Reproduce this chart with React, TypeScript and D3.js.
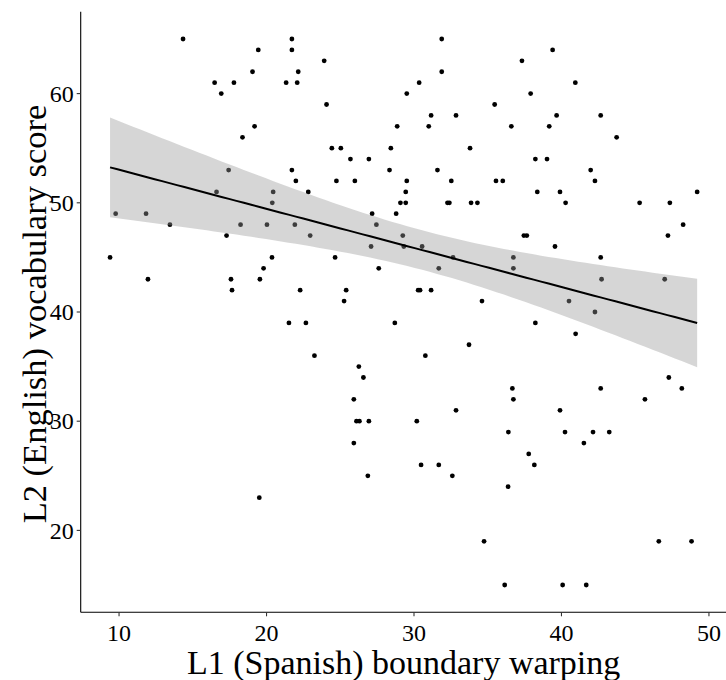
import React from "react";
import * as d3 from "d3";

// L2 vocabulary score levels (y) and the L1 boundary-warping values (x) observed at each level
const scoreLevels: number[] = [65, 64, 63, 62, 61, 60, 59, 58, 57, 56, 55, 54, 53, 52, 51, 50, 49, 48, 47, 46, 45, 44, 43, 42, 41, 40, 39, 38, 37, 36, 35, 34, 33, 32, 31, 30, 29, 28, 27, 26, 25, 24, 23, 19, 15];
const warpingAtLevel: number[][] = [
  [14.34, 21.72, 31.88],
  [19.44, 21.72, 39.4],
  [23.91, 37.32],
  [19.05, 22.15, 31.88],
  [16.48, 17.79, 21.33, 22.08, 30.35, 40.94],
  [16.93, 29.51, 37.91],
  [24.07, 35.47],
  [31.16, 32.85, 39.67, 42.66],
  [19.19, 28.86, 31.0, 36.6, 39.17],
  [18.37, 43.74],
  [24.43, 25.04, 28.43, 33.8],
  [25.69, 26.94, 38.23, 39.02],
  [17.43, 21.72, 28.34, 31.59, 41.98],
  [21.99, 24.74, 25.99, 29.51, 32.53, 35.56, 36.02, 42.27],
  [16.61, 20.45, 22.83, 29.44, 38.36, 39.9, 49.2],
  [20.39, 29.08, 29.44, 32.27, 32.4, 33.87, 34.3, 40.28, 45.3, 47.35],
  [9.77, 11.83, 27.16, 28.79],
  [13.45, 18.24, 20.03, 21.92, 27.45, 48.25],
  [17.29, 22.96, 29.24, 37.45, 37.65, 47.22],
  [27.09, 29.31, 30.55, 39.56],
  [9.39, 20.37, 24.65, 32.65, 36.74, 42.66],
  [19.8, 27.61, 31.68, 36.74],
  [11.96, 17.59, 19.55, 42.72, 47.0],
  [17.66, 22.28, 25.4, 30.28, 30.41, 31.16],
  [25.26, 34.61, 40.51],
  [42.27],
  [21.52, 22.67, 28.7, 38.23],
  [40.96],
  [33.73],
  [23.25, 30.77],
  [26.26],
  [26.57, 47.28],
  [36.67, 42.66, 48.16],
  [25.92, 36.74, 45.66],
  [32.85, 39.9],
  [26.1, 26.3, 26.94, 30.19],
  [36.4, 40.24, 42.14, 43.24],
  [25.92, 41.52],
  [37.78],
  [30.48, 31.68, 38.16],
  [26.87, 32.6],
  [36.38],
  [19.51],
  [34.75, 46.6, 48.82],
  [36.15, 40.08, 41.68],
];

const xTicks: number[] = [10, 20, 30, 40, 50];
const yTicks: number[] = [20, 30, 40, 50, 60];
const xTitle = "L1 (Spanish) boundary warping";
const yTitle = "L2 (English) vocabulary score";

const points = scoreLevels.flatMap((s, i) => warpingAtLevel[i].map((w) => ({ x: w, y: s })));

// Linear model fit with 95% confidence band (like geom_smooth(method = "lm"))
function fitLm(pts: { x: number; y: number }[]) {
  const n = pts.length;
  const mx = d3.mean(pts, (p) => p.x)!;
  const my = d3.mean(pts, (p) => p.y)!;
  const sxx = d3.sum(pts, (p) => (p.x - mx) ** 2);
  const sxy = d3.sum(pts, (p) => (p.x - mx) * (p.y - my));
  const b = sxy / sxx;
  const a = my - b * mx;
  const sse = d3.sum(pts, (p) => (p.y - a - b * p.x) ** 2);
  const s = Math.sqrt(sse / (n - 2));
  const t = 1.975;
  return { a, b, s, n, mx, sxx, t };
}

const W = 726;
const H = 680;
const panel = { left: 80.7, right: 726.5, top: 11.7, bottom: 612.3 };
const FONT = "'Liberation Serif', 'Times New Roman', serif";

export default function App() {
  const xExt = d3.extent(points, (p) => p.x) as [number, number];
  const yExt = d3.extent(points, (p) => p.y) as [number, number];
  const xPad = (xExt[1] - xExt[0]) * 0.05;
  const yPad = (yExt[1] - yExt[0]) * 0.05;
  const x = d3.scaleLinear().domain([xExt[0] - xPad, xExt[1] + xPad]).range([panel.left, panel.right]);
  const y = d3.scaleLinear().domain([yExt[0] - yPad, yExt[1] + yPad]).range([panel.bottom, panel.top]);

  const fit = fitLm(points);
  const grid = d3.range(80).map((i) => xExt[0] + ((xExt[1] - xExt[0]) * i) / 79);
  const band = grid.map((gx) => {
    const yhat = fit.a + fit.b * gx;
    const se = fit.s * Math.sqrt(1 / fit.n + (gx - fit.mx) ** 2 / fit.sxx);
    return { x: gx, y: yhat, lo: yhat - fit.t * se, hi: yhat + fit.t * se };
  });
  const area = d3
    .area<{ x: number; lo: number; hi: number }>()
    .x((d) => x(d.x))
    .y0((d) => y(d.lo))
    .y1((d) => y(d.hi));
  const line = d3
    .line<{ x: number; y: number }>()
    .x((d) => x(d.x))
    .y((d) => y(d.y));

  return (
    <div style={{ position: "fixed", left: 0, top: 0 }}>
      <svg width={W} height={H} style={{ display: "block", background: "#fff" }}>
        <rect x={0} y={0} width={W} height={H} fill="#fff" />
        <g>
          {points.map((p, i) => (
            <circle key={i} cx={x(p.x)} cy={y(p.y)} r={2.4} fill="#000" />
          ))}
        </g>
        <path d={area(band) || ""} fill="#999999" fillOpacity={0.4} stroke="none" />
        <path d={line(band) || ""} fill="none" stroke="#000" strokeWidth={2} />

        {/* axes */}
        <line x1={panel.left} x2={panel.left} y1={panel.top} y2={panel.bottom} stroke="#000" strokeWidth={1.1} />
        <line x1={panel.left} x2={W} y1={panel.bottom} y2={panel.bottom} stroke="#000" strokeWidth={1.1} />
        {xTicks.map((t) => (
          <g key={"xt" + t}>
            <line x1={x(t)} x2={x(t)} y1={panel.bottom} y2={panel.bottom + 4} stroke="#333" strokeWidth={1.1} />
            <text x={x(t)} y={641} textAnchor="middle" fontFamily={FONT} fontSize={24} fill="#000">
              {t}
            </text>
          </g>
        ))}
        {yTicks.map((t) => (
          <g key={"yt" + t}>
            <line x1={panel.left - 4} x2={panel.left} y1={y(t)} y2={y(t)} stroke="#333" strokeWidth={1.1} />
            <text x={panel.left - 7} y={y(t)} dy="0.34em" textAnchor="end" fontFamily={FONT} fontSize={24} fill="#000">
              {t}
            </text>
          </g>
        ))}
        <text x={(panel.left + panel.right) / 2} y={674} textAnchor="middle" fontFamily={FONT} fontSize={34} fill="#000">
          {xTitle}
        </text>
        <text
          transform={`translate(46, ${(panel.top + panel.bottom) / 2 + 2}) rotate(-90)`}
          textAnchor="middle"
          fontFamily={FONT}
          fontSize={34.5}
          fill="#000"
        >
          {yTitle}
        </text>
      </svg>
    </div>
  );
}
